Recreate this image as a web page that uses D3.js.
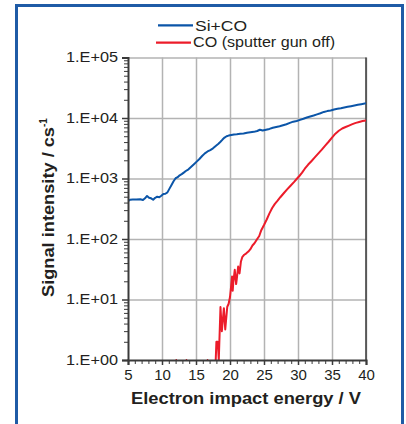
<!DOCTYPE html>
<html><head><meta charset="utf-8">
<script src="https://cdn.jsdelivr.net/npm/d3@7"></script>
<style>
body{margin:0;background:#fff}
text{font-family:"Liberation Sans",Arial,Helvetica,sans-serif;fill:#231f20}
</style>
</head><body>
<svg id="c" width="406" height="424"></svg>
<script>
// ---- data ----
const xTicks = [5, 10, 15, 20, 25, 30, 35, 40];
const yTicks = [1, 10, 100, 1000, 10000, 100000];
const yTickLabels = ["1.E+00", "1.E+01", "1.E+02", "1.E+03", "1.E+04", "1.E+05"];
const seriesNames = ["Si+CO", "CO (sputter gun off)"];
const xTitle = "Electron impact energy / V";
const yTitle = "Signal intensity / cs";
const yTitleSup = "-1";

// Si+CO : [electron energy (V), signal (cs-1)]
const siCO = [
  [5.0,420],[5.3,445],[5.7,450],[6.2,448],[6.8,453],[7.2,440],[7.5,470],[7.8,515],[8.1,480],
  [8.4,470],[8.7,445],[9.0,480],[9.3,500],[9.6,490],[9.9,520],[10.2,555],[10.5,560],[10.8,590],
  [11.1,680],[11.4,780],[11.7,900],[12.0,1010],[12.3,1050],[12.6,1130],[12.9,1180],[13.2,1250],
  [13.5,1330],[13.9,1420],[14.3,1560],[14.7,1720],[15.1,1900],[15.5,2100],[15.9,2350],[16.3,2600],
  [16.7,2800],[17.1,2950],[17.5,3150],[17.9,3450],[18.3,3750],[18.6,4050],[18.9,4400],[19.2,4750],
  [19.5,5000],[19.8,5120],[20.2,5250],[20.6,5350],[21.0,5400],[21.5,5500],[22.0,5550],[22.5,5700],
  [23.0,5800],[23.5,5900],[24.0,6100],[24.4,6400],[24.8,6200],[25.3,6400],[25.8,6600],[26.3,6900],
  [26.8,7100],[27.3,7300],[27.8,7600],[28.3,7900],[28.8,8300],[29.3,8700],[29.8,8900],[30.3,9300],
  [30.8,9700],[31.3,10200],[31.8,10600],[32.3,11000],[32.8,11500],[33.3,12000],[33.8,12600],
  [34.3,13000],[34.8,13300],[35.3,13800],[35.8,14200],[36.3,14500],[36.8,14900],[37.3,15300],
  [37.8,15700],[38.3,16100],[38.8,16500],[39.3,16900],[40.0,17500]
];

// CO (sputter gun off) ; null = no signal (gap)
const coOnly = [
  [12.0,1],[12.2,1],[12.3,null],[13.5,1],[13.7,1],[13.8,null],[16.6,1],[16.8,1],[16.9,null],
  [17.9,1],[18.0,2],[18.2,2],[18.35,1],[18.6,7.5],[18.8,3],[19.1,7.2],[19.3,3.2],[19.6,7.6],
  [19.8,8.5],[20.0,11],[20.1,14],[20.3,24],[20.4,14],[20.5,20],[20.7,31],[20.9,18],[21.0,22],
  [21.2,35],[21.4,27],[21.6,42],[21.8,50],[22.1,55],[22.4,58],[22.7,62],[23.0,68],[23.3,78],
  [23.6,85],[24.0,100],[24.3,112],[24.6,140],[25.0,170],[25.4,210],[25.8,265],[26.2,325],
  [26.6,380],[27.0,430],[27.4,490],[27.9,570],[28.4,660],[28.9,760],[29.4,870],[29.8,980],
  [30.2,1100],[30.6,1250],[31.0,1450],[31.5,1700],[32.0,1950],[32.5,2250],[33.0,2600],[33.5,3000],
  [34.0,3500],[34.5,4050],[35.0,4750],[35.5,5500],[36.0,6150],[36.5,6700],[37.0,7100],[37.5,7500],
  [38.0,7900],[38.5,8300],[39.0,8600],[39.5,8900],[40.0,9100]
];

// ---- layout ----
const svg = d3.select("#c");
const L = 128, R = 366, T = 57.5, B = 360;
const x = d3.scaleLinear().domain([5, 40]).range([L, R]);
const y = d3.scaleLog().domain([1, 100000]).range([B, T]);
const gridCol = "#b3b3b3", axisCol = "#3a3a3a";
const blue = "#0b55a8", red = "#ec1c2a";

// outer frame
svg.append("rect").attr("x", 16.5).attr("y", 5.5).attr("width", 386).attr("height", 440)
  .attr("fill", "none").attr("stroke", "#1f5ba6").attr("stroke-width", 3);

// grid
const gx = svg.append("g").attr("transform", `translate(0,${B})`)
  .call(d3.axisBottom(x).tickValues(xTicks.slice(1)).tickSize(-(B - T)).tickFormat(""));
gx.select(".domain").remove();
gx.selectAll("line").attr("stroke", gridCol).attr("stroke-width", 1.5);
const gy = svg.append("g").attr("transform", `translate(${L},0)`)
  .call(d3.axisLeft(y).tickValues(yTicks.slice(1)).tickSize(-(R - L)).tickFormat(""));
gy.select(".domain").remove();
gy.selectAll("line").attr("stroke", gridCol).attr("stroke-width", 1.5);

// right border of plot
svg.append("line").attr("x1", R).attr("x2", R).attr("y1", T).attr("y2", B)
  .attr("stroke", axisCol).attr("stroke-width", 1.5);

// clip
svg.append("clipPath").attr("id", "pc").append("rect")
  .attr("x", L).attr("y", T - 1).attr("width", R - L).attr("height", B - T + 1);

// lines
const line = d3.line().defined(d => d[1] != null).x(d => x(d[0])).y(d => y(d[1]));
svg.append("path").datum(coOnly).attr("d", line).attr("fill", "none")
  .attr("stroke", red).attr("stroke-width", 2).attr("stroke-linejoin", "round")
  .attr("clip-path", "url(#pc)");
svg.append("path").datum(siCO).attr("d", line).attr("fill", "none")
  .attr("stroke", blue).attr("stroke-width", 2).attr("stroke-linejoin", "round")
  .attr("clip-path", "url(#pc)");

// y axis: minor ticks
const minorY = [];
for (let d = 0; d < 5; d++) for (let k = 2; k <= 9; k++) minorY.push(k * Math.pow(10, d));
const ayMinor = svg.append("g").attr("transform", `translate(${L},0)`)
  .call(d3.axisLeft(y).tickValues(minorY).tickSize(4).tickFormat(""));
ayMinor.select(".domain").remove();
ayMinor.selectAll("line").attr("stroke", axisCol).attr("stroke-width", 1);
const ay = svg.append("g").attr("transform", `translate(${L},0)`)
  .call(d3.axisLeft(y).tickValues(yTicks).tickSize(6).tickPadding(4)
    .tickFormat((d, i) => yTickLabels[i]));
ay.select(".domain").attr("stroke", axisCol).attr("stroke-width", 2);
ay.selectAll("line").attr("stroke", axisCol).attr("stroke-width", 1.5);
ay.selectAll("text").attr("font-size", 14).attr("fill", "#231f20")
  .attr("font-family", "Liberation Sans, Arial, sans-serif")
  .attr("textLength", 52).attr("lengthAdjust", "spacingAndGlyphs");

// x axis
const minorX = d3.range(5, 41, 1);
const axMinor = svg.append("g").attr("transform", `translate(0,${B})`)
  .call(d3.axisBottom(x).tickValues(minorX).tickSize(4).tickFormat(""));
axMinor.select(".domain").remove();
axMinor.selectAll("line").attr("stroke", axisCol).attr("stroke-width", 1);
const ax = svg.append("g").attr("transform", `translate(0,${B})`)
  .call(d3.axisBottom(x).tickValues(xTicks).tickSize(5).tickPadding(4).tickFormat(d3.format("d")));
ax.select(".domain").attr("stroke", axisCol).attr("stroke-width", 2);
ax.selectAll("line").attr("stroke", axisCol).attr("stroke-width", 1.5);
ax.selectAll("text").attr("font-size", 15).attr("fill", "#231f20")
  .attr("font-family", "Liberation Sans, Arial, sans-serif");

// axis titles
svg.append("text").attr("x", 246).attr("y", 404).attr("text-anchor", "middle")
  .attr("font-size", 16).attr("font-weight", "bold")
  .attr("textLength", 230).attr("lengthAdjust", "spacingAndGlyphs").text(xTitle);
const yt = svg.append("text").attr("transform", "translate(54,297) rotate(-90)")
  .attr("font-size", 16).attr("font-weight", "bold");
yt.append("tspan").attr("textLength", 170).attr("lengthAdjust", "spacingAndGlyphs").text(yTitle);
yt.append("tspan").attr("font-size", 10).attr("dy", -7).text(yTitleSup);

// legend
const leg = [
  {name: seriesNames[0], col: blue, x1: 158, x2: 193, y: 25.3, tx: 195, ty: 30.5, w: 52},
  {name: seriesNames[1], col: red, x1: 156, x2: 191, y: 42.7, tx: 193, ty: 47.2, w: 142}
];
leg.forEach(l => {
  svg.append("line").attr("x1", l.x1).attr("x2", l.x2).attr("y1", l.y).attr("y2", l.y)
    .attr("stroke", l.col).attr("stroke-width", 2.2);
  svg.append("text").attr("x", l.tx).attr("y", l.ty).attr("font-size", 14)
    .attr("textLength", l.w).attr("lengthAdjust", "spacingAndGlyphs").text(l.name);
});
</script>
</body></html>
